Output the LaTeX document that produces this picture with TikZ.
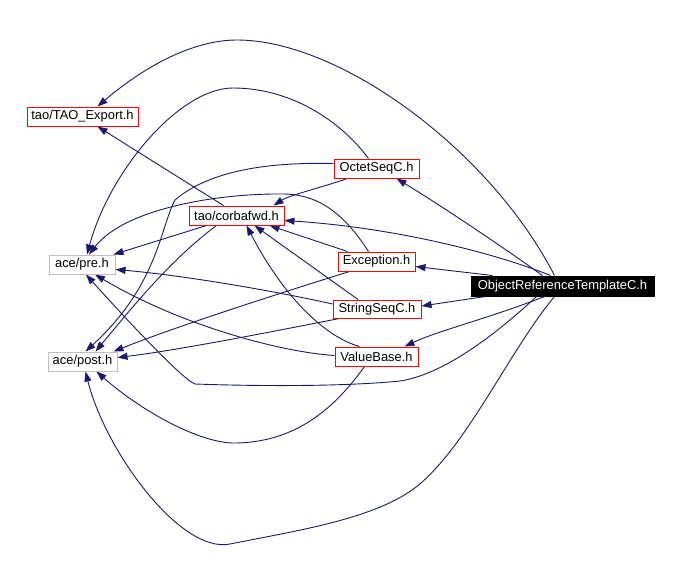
\documentclass[tikz,border=0pt]{standalone}
\usepackage{fontspec}
\setmainfont{Liberation Sans}
\usetikzlibrary{arrows.meta,calc}
\definecolor{edgeblue}{HTML}{191970}
\definecolor{boxred}{HTML}{FF0000}
\definecolor{boxgrey}{HTML}{BFBFBF}
\pgfdeclarelayer{edgelayer}
\pgfsetlayers{edgelayer,main}
\begin{document}
\begin{tikzpicture}[x=1pt,y=-1pt,
  basebox/.style={rectangle, inner sep=0pt, minimum height=19pt, line width=1pt,
    fill=white, font=\fontsize{12.9}{14}\selectfont, anchor=center},
  redbox/.style={basebox, draw=boxred},
  greybox/.style={basebox, draw=boxgrey},
  mainbox/.style={basebox, draw=black, fill=black, text=white, minimum height=20pt},
  dep/.style={draw=edgeblue, line width=0.9pt, -{Triangle[length=10pt,width=7pt]}}
]
\useasboundingbox (0,0) rectangle (678,582);

% nodes
\node[redbox, minimum width=111pt] (tao) at (82.5,116.5) {tao/TAO\_Export.h};
\node[greybox, minimum width=66pt] (pre) at (82,264.5) {ace/pre.h};
\node[greybox, minimum width=69pt] (post) at (82.5,361.5) {ace/post.h};
\node[redbox, minimum width=95pt] (corba) at (236.5,215.5) {tao/corbafwd.h};
\node[redbox, minimum width=85pt] (oct) at (376.5,168.5) {OctetSeqC.h};
\node[redbox, minimum width=77pt] (exc) at (376.5,261.5) {Exception.h};
\node[redbox, minimum width=88pt, minimum height=18pt] (str) at (377,309) {StringSeqC.h};
\node[redbox, minimum width=83pt] (vb) at (376.5,356.5) {ValueBase.h};
\node[mainbox, minimum width=183pt] (ort) at (562.5,286) {ObjectReferenceTemplateC.h};

\begin{pgfonlayer}{edgelayer}
\fill[white] (0,0) rectangle (678,582);
% ObjectReferenceTemplateC.h
\draw[dep] ($(ort.north)+(-8,0)$) .. controls (490,150) and (340,40) .. (237,40)
   .. controls (190,40) and (140,70) .. ($(tao.north)+(15,0)$);
\draw[dep] ($(ort.north)+(-20,0)$) .. controls (500,245) and (440,205) .. ($(oct.south)+(20,0)$);
\draw[dep] ($(ort.north)+(-12,0)$) .. controls (500,255) and (400,228) .. ($(corba.east)+(0,5)$);
\draw[dep] ($(ort.north west)+(22,0)$) -- ($(exc.east)+(0,5)$);
\draw[dep] ($(ort.south west)+(15,0)$) -- ($(str.east)+(0,-3)$);
\draw[dep] ($(ort.south west)+(74,0)$) .. controls (490,318) and (440,330) .. ($(vb.north)+(28,0)$);
\draw[dep] ($(ort.south west)+(66,0)$) .. controls (490,340) and (440,375) .. (400,381)
   .. controls (340,387) and (250,386) .. (195,384)
   .. controls (183,380) and (125,318) .. ($(pre.south)+(4,0)$);
\draw[dep] ($(ort.south west)+(84,0)$) .. controls (510,350) and (470,440) .. (421,483)
   .. controls (381,518) and (300,530) .. (230,544)
   .. controls (180,554) and (105,450) .. ($(post.south)+(3,0)$);

% ValueBase.h
\draw[dep] ($(vb.south)+(-12,0)$) .. controls (330,415) and (290,442) .. (236,443)
   .. controls (200,444) and (140,410) .. ($(post.south)+(14,0)$);
\draw[dep] ($(vb.west)+(0,-1)$) .. controls (280,352) and (180,325) .. ($(pre.south)+(13,0)$);
\draw[dep] ($(vb.north)+(-17,0)$) .. controls (320,335) and (280,290) .. ($(corba.south)+(10,0)$);

% StringSeqC.h
\draw[dep] ($(str.south west)+(7,0)$) .. controls (280,330) and (180,350) .. ($(post.east)+(0,-4)$);
\draw[dep] ($(str.west)+(0,-5)$) .. controls (270,290) and (180,275) .. ($(pre.east)+(0,5)$);
\draw[dep] ($(str.north)+(-19,0)$) -- ($(corba.south)+(18,0)$);

% Exception.h
\draw[dep] ($(exc.north west)+(10,0)$) -- ($(corba.south)+(33,0)$);
\draw[dep] ($(exc.north)+(-8,0)$) .. controls (345,215) and (320,195) .. (285,194)
   .. controls (220,193) and (125,208) .. ($(pre.north)+(7,0)$);
\draw[dep] ($(exc.south west)+(12,0)$) .. controls (290,290) and (180,325) .. ($(post.north east)+(-4,0)$);

% OctetSeqC.h
\draw[dep] ($(oct.north)+(-8,0)$) .. controls (340,120) and (290,88) .. (233,88)
   .. controls (180,88) and (110,170) .. ($(pre.north)+(5,0)$);
\draw[dep] ($(oct.west)+(0,-5)$) .. controls (270,162) and (210,170) .. (175,200)
   .. controls (160,228) and (158,285) .. ($(post.north)+(3,0)$);
\draw[dep] ($(oct.south west)+(14,0)$) .. controls (320,188) and (290,195) .. ($(corba.north)+(37,0)$);

% tao/corbafwd.h
\draw[dep] ($(corba.north)+(-13,0)$) -- ($(tao.south)+(15,0)$);
\draw[dep] ($(corba.south west)+(18,0)$) -- ($(pre.north east)+(-2,0)$);
\draw[dep] ($(corba.south west)+(28,0)$) .. controls (170,260) and (130,310) .. ($(post.north)+(13,0)$);
\end{pgfonlayer}
\end{tikzpicture}
\end{document}
